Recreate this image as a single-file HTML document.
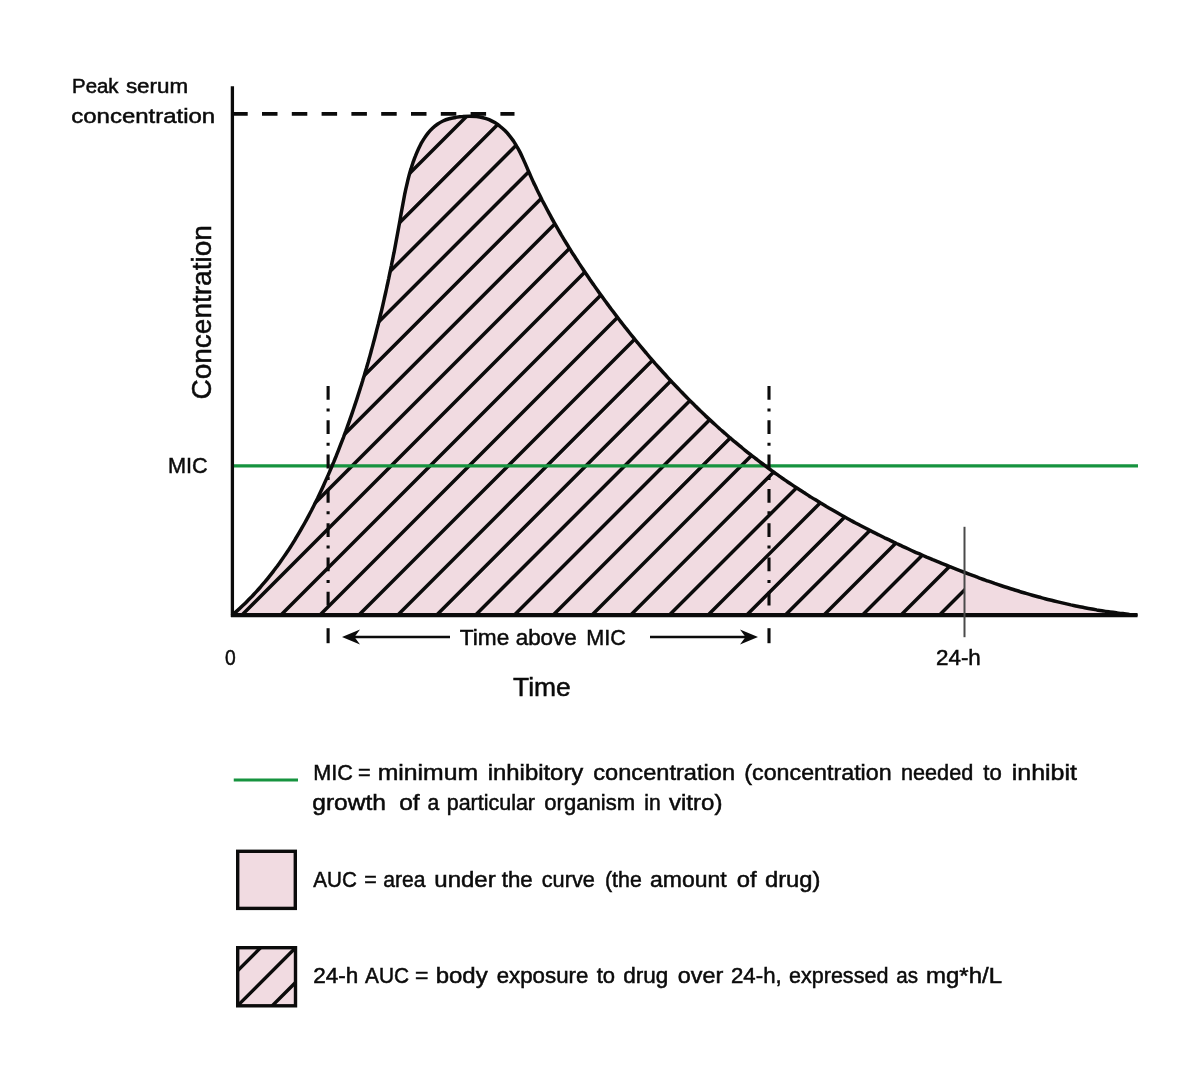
<!DOCTYPE html>
<html><head><meta charset="utf-8"><title>PK curve</title>
<style>
html,body{margin:0;padding:0;background:#fff;}
body{width:1200px;height:1078px;overflow:hidden;}
svg{display:block;filter:blur(0.55px);}
text{font-family:"Liberation Sans",sans-serif;fill:#0b0b0b;stroke:#0b0b0b;stroke-width:0.5px;}
</style></head><body>
<svg width="1200" height="1078" viewBox="0 0 1200 1078">
<defs>
<clipPath id="auc"><path d="M232.6,614.8 C233.4,614.1 236.0,611.9 237.6,610.4 C239.3,608.9 240.9,607.4 242.5,605.8 C244.1,604.3 245.7,602.8 247.2,601.2 C248.8,599.6 250.3,598.0 251.9,596.5 C253.4,594.9 254.9,593.2 256.4,591.6 C257.9,590.0 259.3,588.4 260.8,586.7 C262.2,585.0 263.6,583.4 265.1,581.7 C266.5,580.0 267.9,578.3 269.2,576.6 C270.6,574.9 271.9,573.2 273.3,571.4 C274.6,569.7 275.9,567.9 277.2,566.2 C278.5,564.4 279.8,562.6 281.1,560.8 C282.4,559.0 283.6,557.2 284.8,555.4 C286.1,553.6 287.3,551.8 288.5,550.0 C289.7,548.1 290.9,546.3 292.1,544.4 C293.2,542.6 294.4,540.7 295.5,538.8 C296.7,536.9 297.8,535.1 298.9,533.2 C300.0,531.3 301.1,529.4 302.2,527.4 C303.3,525.5 304.4,523.6 305.4,521.7 C306.5,519.7 307.6,517.8 308.6,515.9 C309.6,513.9 310.6,512.0 311.7,510.0 C312.7,508.0 313.7,506.1 314.6,504.1 C315.6,502.1 316.6,500.1 317.6,498.2 C318.5,496.2 319.5,494.2 320.4,492.2 C321.4,490.2 322.3,488.2 323.2,486.2 C324.1,484.2 325.0,482.1 325.9,480.1 C326.8,478.1 327.7,476.1 328.6,474.1 C329.5,472.0 330.3,470.0 331.2,468.0 C332.1,465.9 332.9,463.9 333.8,461.9 C334.6,459.8 335.4,457.8 336.3,455.7 C337.1,453.7 337.9,451.7 338.7,449.6 C339.5,447.6 340.3,445.5 341.1,443.4 C341.9,441.4 342.7,439.3 343.5,437.3 C344.2,435.2 345.0,433.1 345.8,431.1 C346.5,429.0 347.3,426.9 348.0,424.9 C348.8,422.8 349.5,420.7 350.2,418.6 C351.0,416.6 351.7,414.5 352.4,412.4 C353.1,410.3 353.8,408.2 354.5,406.1 C355.2,404.1 355.9,402.0 356.6,399.9 C357.3,397.8 358.0,395.7 358.6,393.6 C359.3,391.5 360.0,389.4 360.6,387.3 C361.3,385.2 361.9,383.1 362.6,381.0 C363.2,378.9 363.9,376.8 364.5,374.7 C365.1,372.6 365.7,370.4 366.4,368.3 C367.0,366.2 367.6,364.1 368.2,362.0 C368.8,359.9 369.4,357.7 370.0,355.6 C370.6,353.5 371.1,351.4 371.7,349.3 C372.3,347.1 372.9,345.0 373.4,342.9 C374.0,340.7 374.6,338.6 375.1,336.5 C375.7,334.3 376.2,332.2 376.7,330.1 C377.3,327.9 377.8,325.8 378.4,323.7 C378.9,321.5 379.4,319.4 379.9,317.3 C380.4,315.1 381.0,313.0 381.5,310.8 C382.0,308.7 382.5,306.5 383.0,304.4 C383.5,302.2 384.0,300.1 384.4,298.0 C384.9,295.8 385.4,293.7 385.9,291.5 C386.4,289.4 386.8,287.2 387.3,285.0 C387.8,282.9 388.2,280.7 388.7,278.6 C389.1,276.4 389.6,274.3 390.0,272.1 C390.5,270.0 390.9,267.8 391.4,265.6 C391.8,263.5 392.2,261.3 392.7,259.2 C393.1,257.0 393.5,254.8 394.0,252.7 C394.4,250.5 394.8,248.4 395.2,246.2 C395.6,244.0 396.0,241.9 396.4,239.7 C396.8,237.5 397.2,235.4 397.6,233.2 C398.0,231.0 398.4,228.9 398.8,226.7 C399.2,224.5 399.6,222.4 400.0,220.2 C400.4,218.0 400.7,215.9 401.1,213.7 C401.5,211.5 401.9,209.4 402.3,207.2 C402.7,205.0 403.1,202.9 403.5,200.7 C403.9,198.6 404.3,196.4 404.7,194.2 C405.2,192.1 405.6,189.9 406.1,187.8 C406.6,185.6 407.1,183.5 407.6,181.3 C408.1,179.2 408.7,177.1 409.2,174.9 C409.8,172.8 410.4,170.7 411.1,168.6 C411.7,166.4 412.4,164.3 413.1,162.2 C413.9,160.1 414.6,158.0 415.5,155.9 C416.3,153.9 417.1,151.8 418.1,149.7 C419.0,147.7 420.0,145.7 421.0,143.7 C422.1,141.8 423.2,139.9 424.4,138.1 C425.6,136.2 426.8,134.5 428.2,132.8 C429.5,131.2 431.0,129.6 432.5,128.2 C434.1,126.7 435.7,125.4 437.4,124.2 C439.2,123.0 441.0,121.9 443.0,121.0 C445.0,120.1 447.1,119.4 449.2,118.8 C451.4,118.2 453.6,117.7 455.9,117.4 C458.2,117.0 460.5,116.7 462.8,116.6 C465.1,116.4 467.4,116.3 469.7,116.3 C472.0,116.3 474.3,116.4 476.5,116.6 C478.7,116.8 480.9,117.2 483.0,117.7 C485.1,118.2 487.1,118.8 489.1,119.6 C491.1,120.5 493.0,121.5 494.8,122.6 C496.6,123.7 498.4,124.9 500.1,126.3 C501.8,127.6 503.4,129.1 504.9,130.6 C506.5,132.2 508.0,133.9 509.4,135.6 C510.8,137.3 512.1,139.1 513.4,140.9 C514.6,142.8 515.8,144.7 516.9,146.6 C518.1,148.5 519.1,150.4 520.1,152.4 C521.1,154.4 522.0,156.4 522.9,158.4 C523.8,160.4 524.7,162.4 525.6,164.4 C526.5,166.5 527.3,168.5 528.2,170.5 C529.1,172.5 530.0,174.6 530.9,176.6 C531.8,178.6 532.7,180.6 533.6,182.6 C534.6,184.6 535.5,186.6 536.5,188.6 C537.4,190.6 538.4,192.6 539.4,194.5 C540.4,196.5 541.3,198.5 542.3,200.5 C543.3,202.4 544.4,204.4 545.4,206.3 C546.4,208.3 547.4,210.2 548.5,212.2 C549.5,214.1 550.6,216.0 551.6,218.0 C552.7,219.9 553.8,221.8 554.8,223.7 C555.9,225.6 557.0,227.5 558.1,229.4 C559.2,231.3 560.3,233.2 561.4,235.1 C562.6,237.0 563.7,238.9 564.8,240.8 C566.0,242.6 567.1,244.5 568.3,246.4 C569.4,248.3 570.6,250.1 571.7,252.0 C572.9,253.8 574.1,255.7 575.3,257.5 C576.5,259.4 577.7,261.2 578.9,263.1 C580.1,264.9 581.3,266.7 582.5,268.5 C583.7,270.4 584.9,272.2 586.2,274.0 C587.4,275.8 588.7,277.6 589.9,279.5 C591.1,281.3 592.4,283.1 593.7,284.9 C594.9,286.7 596.2,288.5 597.5,290.3 C598.7,292.1 600.0,293.9 601.3,295.6 C602.6,297.4 603.9,299.2 605.2,301.0 C606.5,302.8 607.8,304.5 609.1,306.3 C610.4,308.1 611.8,309.8 613.1,311.6 C614.4,313.4 615.7,315.1 617.1,316.9 C618.4,318.6 619.8,320.4 621.1,322.1 C622.5,323.9 623.8,325.6 625.2,327.4 C626.6,329.1 627.9,330.8 629.3,332.5 C630.7,334.3 632.1,336.0 633.5,337.7 C634.9,339.4 636.3,341.1 637.7,342.8 C639.1,344.6 640.5,346.3 641.9,347.9 C643.3,349.6 644.7,351.3 646.2,353.0 C647.6,354.7 649.0,356.4 650.5,358.1 C651.9,359.7 653.4,361.4 654.8,363.1 C656.3,364.7 657.8,366.4 659.2,368.0 C660.7,369.7 662.2,371.3 663.7,373.0 C665.2,374.6 666.6,376.2 668.1,377.9 C669.6,379.5 671.1,381.1 672.6,382.7 C674.2,384.3 675.7,385.9 677.2,387.5 C678.7,389.1 680.3,390.7 681.8,392.3 C683.3,393.9 684.9,395.5 686.4,397.0 C688.0,398.6 689.5,400.2 691.1,401.7 C692.7,403.3 694.2,404.8 695.8,406.4 C697.4,407.9 699.0,409.5 700.5,411.0 C702.1,412.5 703.7,414.0 705.3,415.6 C706.9,417.1 708.5,418.6 710.2,420.1 C711.8,421.6 713.4,423.1 715.0,424.5 C716.7,426.0 718.3,427.5 719.9,429.0 C721.6,430.4 723.2,431.9 724.9,433.3 C726.6,434.8 728.2,436.2 729.9,437.7 C731.6,439.1 733.2,440.5 734.9,441.9 C736.6,443.4 738.3,444.8 740.0,446.2 C741.7,447.6 743.4,448.9 745.1,450.3 C746.8,451.7 748.5,453.1 750.3,454.4 C752.0,455.8 753.7,457.1 755.5,458.5 C757.2,459.8 758.9,461.2 760.7,462.5 C762.4,463.8 764.2,465.1 766.0,466.4 C767.7,467.8 769.5,469.1 771.3,470.3 C773.1,471.6 774.8,472.9 776.6,474.2 C778.4,475.5 780.2,476.7 782.0,478.0 C783.8,479.2 785.6,480.5 787.4,481.7 C789.3,483.0 791.1,484.2 792.9,485.4 C794.7,486.6 796.6,487.8 798.4,489.0 C800.2,490.2 802.1,491.4 803.9,492.6 C805.8,493.8 807.6,495.0 809.5,496.2 C811.3,497.3 813.2,498.5 815.1,499.6 C817.0,500.8 818.8,501.9 820.7,503.1 C822.6,504.2 824.5,505.3 826.4,506.5 C828.3,507.6 830.2,508.7 832.1,509.8 C834.0,510.9 835.9,512.0 837.8,513.1 C839.7,514.2 841.6,515.3 843.5,516.3 C845.5,517.4 847.4,518.5 849.3,519.5 C851.2,520.6 853.2,521.6 855.1,522.7 C857.1,523.7 859.0,524.8 860.9,525.8 C862.9,526.8 864.8,527.8 866.8,528.8 C868.8,529.9 870.7,530.9 872.7,531.9 C874.6,532.9 876.6,533.9 878.6,534.8 C880.6,535.8 882.5,536.8 884.5,537.8 C886.5,538.7 888.5,539.7 890.5,540.6 C892.5,541.6 894.5,542.5 896.5,543.5 C898.5,544.4 900.5,545.4 902.5,546.3 C904.5,547.2 906.5,548.1 908.5,549.0 C910.5,550.0 912.5,550.9 914.5,551.8 C916.5,552.7 918.5,553.5 920.6,554.4 C922.6,555.3 924.6,556.2 926.6,557.1 C928.7,557.9 930.7,558.8 932.7,559.7 C934.8,560.5 936.8,561.4 938.9,562.2 C940.9,563.1 942.9,563.9 945.0,564.7 C947.0,565.6 949.1,566.4 951.1,567.2 C953.2,568.0 955.2,568.8 957.3,569.6 C959.3,570.4 961.4,571.2 963.5,572.0 C965.5,572.8 967.6,573.6 969.7,574.4 C971.7,575.2 973.8,575.9 975.9,576.7 C977.9,577.5 980.0,578.2 982.1,579.0 C984.2,579.7 986.2,580.5 988.3,581.2 C990.4,581.9 992.5,582.6 994.6,583.4 C996.7,584.1 998.8,584.8 1000.8,585.5 C1002.9,586.2 1005.0,586.9 1007.1,587.5 C1009.2,588.2 1011.3,588.9 1013.4,589.5 C1015.5,590.2 1017.6,590.8 1019.7,591.5 C1021.8,592.1 1024.0,592.8 1026.1,593.4 C1028.2,594.0 1030.3,594.6 1032.4,595.2 C1034.5,595.8 1036.6,596.4 1038.8,597.0 C1040.9,597.6 1043.0,598.1 1045.1,598.7 C1047.3,599.3 1049.4,599.8 1051.5,600.3 C1053.7,600.9 1055.8,601.4 1057.9,601.9 C1060.1,602.4 1062.2,602.9 1064.4,603.4 C1066.5,603.9 1068.7,604.4 1070.8,604.9 C1072.9,605.3 1075.1,605.8 1077.3,606.2 C1079.4,606.7 1081.6,607.1 1083.7,607.5 C1085.9,607.9 1088.0,608.4 1090.2,608.7 C1092.4,609.1 1094.5,609.5 1096.7,609.9 C1098.9,610.2 1101.0,610.6 1103.2,610.9 C1105.4,611.3 1107.6,611.6 1109.7,611.9 C1111.9,612.2 1114.1,612.5 1116.3,612.8 C1118.5,613.1 1120.6,613.4 1122.8,613.6 C1125.0,613.9 1127.2,614.1 1129.4,614.4 C1131.6,614.6 1134.9,614.9 1136.0,615.0 L233,614.8 Z"/></clipPath>
<clipPath id="h24"><rect x="0" y="0" width="964.5" height="1078"/></clipPath>
<clipPath id="box2"><rect x="237.7" y="947.7" width="57.8" height="58.1"/></clipPath>
</defs>
<rect width="1200" height="1078" fill="#fff"/>
<!-- filled area -->
<path d="M232.6,614.8 C233.4,614.1 236.0,611.9 237.6,610.4 C239.3,608.9 240.9,607.4 242.5,605.8 C244.1,604.3 245.7,602.8 247.2,601.2 C248.8,599.6 250.3,598.0 251.9,596.5 C253.4,594.9 254.9,593.2 256.4,591.6 C257.9,590.0 259.3,588.4 260.8,586.7 C262.2,585.0 263.6,583.4 265.1,581.7 C266.5,580.0 267.9,578.3 269.2,576.6 C270.6,574.9 271.9,573.2 273.3,571.4 C274.6,569.7 275.9,567.9 277.2,566.2 C278.5,564.4 279.8,562.6 281.1,560.8 C282.4,559.0 283.6,557.2 284.8,555.4 C286.1,553.6 287.3,551.8 288.5,550.0 C289.7,548.1 290.9,546.3 292.1,544.4 C293.2,542.6 294.4,540.7 295.5,538.8 C296.7,536.9 297.8,535.1 298.9,533.2 C300.0,531.3 301.1,529.4 302.2,527.4 C303.3,525.5 304.4,523.6 305.4,521.7 C306.5,519.7 307.6,517.8 308.6,515.9 C309.6,513.9 310.6,512.0 311.7,510.0 C312.7,508.0 313.7,506.1 314.6,504.1 C315.6,502.1 316.6,500.1 317.6,498.2 C318.5,496.2 319.5,494.2 320.4,492.2 C321.4,490.2 322.3,488.2 323.2,486.2 C324.1,484.2 325.0,482.1 325.9,480.1 C326.8,478.1 327.7,476.1 328.6,474.1 C329.5,472.0 330.3,470.0 331.2,468.0 C332.1,465.9 332.9,463.9 333.8,461.9 C334.6,459.8 335.4,457.8 336.3,455.7 C337.1,453.7 337.9,451.7 338.7,449.6 C339.5,447.6 340.3,445.5 341.1,443.4 C341.9,441.4 342.7,439.3 343.5,437.3 C344.2,435.2 345.0,433.1 345.8,431.1 C346.5,429.0 347.3,426.9 348.0,424.9 C348.8,422.8 349.5,420.7 350.2,418.6 C351.0,416.6 351.7,414.5 352.4,412.4 C353.1,410.3 353.8,408.2 354.5,406.1 C355.2,404.1 355.9,402.0 356.6,399.9 C357.3,397.8 358.0,395.7 358.6,393.6 C359.3,391.5 360.0,389.4 360.6,387.3 C361.3,385.2 361.9,383.1 362.6,381.0 C363.2,378.9 363.9,376.8 364.5,374.7 C365.1,372.6 365.7,370.4 366.4,368.3 C367.0,366.2 367.6,364.1 368.2,362.0 C368.8,359.9 369.4,357.7 370.0,355.6 C370.6,353.5 371.1,351.4 371.7,349.3 C372.3,347.1 372.9,345.0 373.4,342.9 C374.0,340.7 374.6,338.6 375.1,336.5 C375.7,334.3 376.2,332.2 376.7,330.1 C377.3,327.9 377.8,325.8 378.4,323.7 C378.9,321.5 379.4,319.4 379.9,317.3 C380.4,315.1 381.0,313.0 381.5,310.8 C382.0,308.7 382.5,306.5 383.0,304.4 C383.5,302.2 384.0,300.1 384.4,298.0 C384.9,295.8 385.4,293.7 385.9,291.5 C386.4,289.4 386.8,287.2 387.3,285.0 C387.8,282.9 388.2,280.7 388.7,278.6 C389.1,276.4 389.6,274.3 390.0,272.1 C390.5,270.0 390.9,267.8 391.4,265.6 C391.8,263.5 392.2,261.3 392.7,259.2 C393.1,257.0 393.5,254.8 394.0,252.7 C394.4,250.5 394.8,248.4 395.2,246.2 C395.6,244.0 396.0,241.9 396.4,239.7 C396.8,237.5 397.2,235.4 397.6,233.2 C398.0,231.0 398.4,228.9 398.8,226.7 C399.2,224.5 399.6,222.4 400.0,220.2 C400.4,218.0 400.7,215.9 401.1,213.7 C401.5,211.5 401.9,209.4 402.3,207.2 C402.7,205.0 403.1,202.9 403.5,200.7 C403.9,198.6 404.3,196.4 404.7,194.2 C405.2,192.1 405.6,189.9 406.1,187.8 C406.6,185.6 407.1,183.5 407.6,181.3 C408.1,179.2 408.7,177.1 409.2,174.9 C409.8,172.8 410.4,170.7 411.1,168.6 C411.7,166.4 412.4,164.3 413.1,162.2 C413.9,160.1 414.6,158.0 415.5,155.9 C416.3,153.9 417.1,151.8 418.1,149.7 C419.0,147.7 420.0,145.7 421.0,143.7 C422.1,141.8 423.2,139.9 424.4,138.1 C425.6,136.2 426.8,134.5 428.2,132.8 C429.5,131.2 431.0,129.6 432.5,128.2 C434.1,126.7 435.7,125.4 437.4,124.2 C439.2,123.0 441.0,121.9 443.0,121.0 C445.0,120.1 447.1,119.4 449.2,118.8 C451.4,118.2 453.6,117.7 455.9,117.4 C458.2,117.0 460.5,116.7 462.8,116.6 C465.1,116.4 467.4,116.3 469.7,116.3 C472.0,116.3 474.3,116.4 476.5,116.6 C478.7,116.8 480.9,117.2 483.0,117.7 C485.1,118.2 487.1,118.8 489.1,119.6 C491.1,120.5 493.0,121.5 494.8,122.6 C496.6,123.7 498.4,124.9 500.1,126.3 C501.8,127.6 503.4,129.1 504.9,130.6 C506.5,132.2 508.0,133.9 509.4,135.6 C510.8,137.3 512.1,139.1 513.4,140.9 C514.6,142.8 515.8,144.7 516.9,146.6 C518.1,148.5 519.1,150.4 520.1,152.4 C521.1,154.4 522.0,156.4 522.9,158.4 C523.8,160.4 524.7,162.4 525.6,164.4 C526.5,166.5 527.3,168.5 528.2,170.5 C529.1,172.5 530.0,174.6 530.9,176.6 C531.8,178.6 532.7,180.6 533.6,182.6 C534.6,184.6 535.5,186.6 536.5,188.6 C537.4,190.6 538.4,192.6 539.4,194.5 C540.4,196.5 541.3,198.5 542.3,200.5 C543.3,202.4 544.4,204.4 545.4,206.3 C546.4,208.3 547.4,210.2 548.5,212.2 C549.5,214.1 550.6,216.0 551.6,218.0 C552.7,219.9 553.8,221.8 554.8,223.7 C555.9,225.6 557.0,227.5 558.1,229.4 C559.2,231.3 560.3,233.2 561.4,235.1 C562.6,237.0 563.7,238.9 564.8,240.8 C566.0,242.6 567.1,244.5 568.3,246.4 C569.4,248.3 570.6,250.1 571.7,252.0 C572.9,253.8 574.1,255.7 575.3,257.5 C576.5,259.4 577.7,261.2 578.9,263.1 C580.1,264.9 581.3,266.7 582.5,268.5 C583.7,270.4 584.9,272.2 586.2,274.0 C587.4,275.8 588.7,277.6 589.9,279.5 C591.1,281.3 592.4,283.1 593.7,284.9 C594.9,286.7 596.2,288.5 597.5,290.3 C598.7,292.1 600.0,293.9 601.3,295.6 C602.6,297.4 603.9,299.2 605.2,301.0 C606.5,302.8 607.8,304.5 609.1,306.3 C610.4,308.1 611.8,309.8 613.1,311.6 C614.4,313.4 615.7,315.1 617.1,316.9 C618.4,318.6 619.8,320.4 621.1,322.1 C622.5,323.9 623.8,325.6 625.2,327.4 C626.6,329.1 627.9,330.8 629.3,332.5 C630.7,334.3 632.1,336.0 633.5,337.7 C634.9,339.4 636.3,341.1 637.7,342.8 C639.1,344.6 640.5,346.3 641.9,347.9 C643.3,349.6 644.7,351.3 646.2,353.0 C647.6,354.7 649.0,356.4 650.5,358.1 C651.9,359.7 653.4,361.4 654.8,363.1 C656.3,364.7 657.8,366.4 659.2,368.0 C660.7,369.7 662.2,371.3 663.7,373.0 C665.2,374.6 666.6,376.2 668.1,377.9 C669.6,379.5 671.1,381.1 672.6,382.7 C674.2,384.3 675.7,385.9 677.2,387.5 C678.7,389.1 680.3,390.7 681.8,392.3 C683.3,393.9 684.9,395.5 686.4,397.0 C688.0,398.6 689.5,400.2 691.1,401.7 C692.7,403.3 694.2,404.8 695.8,406.4 C697.4,407.9 699.0,409.5 700.5,411.0 C702.1,412.5 703.7,414.0 705.3,415.6 C706.9,417.1 708.5,418.6 710.2,420.1 C711.8,421.6 713.4,423.1 715.0,424.5 C716.7,426.0 718.3,427.5 719.9,429.0 C721.6,430.4 723.2,431.9 724.9,433.3 C726.6,434.8 728.2,436.2 729.9,437.7 C731.6,439.1 733.2,440.5 734.9,441.9 C736.6,443.4 738.3,444.8 740.0,446.2 C741.7,447.6 743.4,448.9 745.1,450.3 C746.8,451.7 748.5,453.1 750.3,454.4 C752.0,455.8 753.7,457.1 755.5,458.5 C757.2,459.8 758.9,461.2 760.7,462.5 C762.4,463.8 764.2,465.1 766.0,466.4 C767.7,467.8 769.5,469.1 771.3,470.3 C773.1,471.6 774.8,472.9 776.6,474.2 C778.4,475.5 780.2,476.7 782.0,478.0 C783.8,479.2 785.6,480.5 787.4,481.7 C789.3,483.0 791.1,484.2 792.9,485.4 C794.7,486.6 796.6,487.8 798.4,489.0 C800.2,490.2 802.1,491.4 803.9,492.6 C805.8,493.8 807.6,495.0 809.5,496.2 C811.3,497.3 813.2,498.5 815.1,499.6 C817.0,500.8 818.8,501.9 820.7,503.1 C822.6,504.2 824.5,505.3 826.4,506.5 C828.3,507.6 830.2,508.7 832.1,509.8 C834.0,510.9 835.9,512.0 837.8,513.1 C839.7,514.2 841.6,515.3 843.5,516.3 C845.5,517.4 847.4,518.5 849.3,519.5 C851.2,520.6 853.2,521.6 855.1,522.7 C857.1,523.7 859.0,524.8 860.9,525.8 C862.9,526.8 864.8,527.8 866.8,528.8 C868.8,529.9 870.7,530.9 872.7,531.9 C874.6,532.9 876.6,533.9 878.6,534.8 C880.6,535.8 882.5,536.8 884.5,537.8 C886.5,538.7 888.5,539.7 890.5,540.6 C892.5,541.6 894.5,542.5 896.5,543.5 C898.5,544.4 900.5,545.4 902.5,546.3 C904.5,547.2 906.5,548.1 908.5,549.0 C910.5,550.0 912.5,550.9 914.5,551.8 C916.5,552.7 918.5,553.5 920.6,554.4 C922.6,555.3 924.6,556.2 926.6,557.1 C928.7,557.9 930.7,558.8 932.7,559.7 C934.8,560.5 936.8,561.4 938.9,562.2 C940.9,563.1 942.9,563.9 945.0,564.7 C947.0,565.6 949.1,566.4 951.1,567.2 C953.2,568.0 955.2,568.8 957.3,569.6 C959.3,570.4 961.4,571.2 963.5,572.0 C965.5,572.8 967.6,573.6 969.7,574.4 C971.7,575.2 973.8,575.9 975.9,576.7 C977.9,577.5 980.0,578.2 982.1,579.0 C984.2,579.7 986.2,580.5 988.3,581.2 C990.4,581.9 992.5,582.6 994.6,583.4 C996.7,584.1 998.8,584.8 1000.8,585.5 C1002.9,586.2 1005.0,586.9 1007.1,587.5 C1009.2,588.2 1011.3,588.9 1013.4,589.5 C1015.5,590.2 1017.6,590.8 1019.7,591.5 C1021.8,592.1 1024.0,592.8 1026.1,593.4 C1028.2,594.0 1030.3,594.6 1032.4,595.2 C1034.5,595.8 1036.6,596.4 1038.8,597.0 C1040.9,597.6 1043.0,598.1 1045.1,598.7 C1047.3,599.3 1049.4,599.8 1051.5,600.3 C1053.7,600.9 1055.8,601.4 1057.9,601.9 C1060.1,602.4 1062.2,602.9 1064.4,603.4 C1066.5,603.9 1068.7,604.4 1070.8,604.9 C1072.9,605.3 1075.1,605.8 1077.3,606.2 C1079.4,606.7 1081.6,607.1 1083.7,607.5 C1085.9,607.9 1088.0,608.4 1090.2,608.7 C1092.4,609.1 1094.5,609.5 1096.7,609.9 C1098.9,610.2 1101.0,610.6 1103.2,610.9 C1105.4,611.3 1107.6,611.6 1109.7,611.9 C1111.9,612.2 1114.1,612.5 1116.3,612.8 C1118.5,613.1 1120.6,613.4 1122.8,613.6 C1125.0,613.9 1127.2,614.1 1129.4,614.4 C1131.6,614.6 1134.9,614.9 1136.0,615.0 L233,614.8 Z" fill="#f1dbe1"/>
<!-- hatch -->
<g clip-path="url(#h24)"><g clip-path="url(#auc)"><path d="M-396.25,624.80 L173.75,54.80 M-356.74,624.80 L213.26,54.80 M-317.27,624.80 L252.73,54.80 M-277.82,624.80 L292.18,54.80 M-238.41,624.80 L331.59,54.80 M-199.03,624.80 L370.97,54.80 M-159.68,624.80 L410.32,54.80 M-120.35,624.80 L449.65,54.80 M-81.06,624.80 L488.94,54.80 M-41.80,624.80 L528.20,54.80 M-2.57,624.80 L567.43,54.80 M36.63,624.80 L606.63,54.80 M75.79,624.80 L645.79,54.80 M114.93,624.80 L684.93,54.80 M154.04,624.80 L724.04,54.80 M193.11,624.80 L763.11,54.80 M232.16,624.80 L802.16,54.80 M271.17,624.80 L841.17,54.80 M310.16,624.80 L880.16,54.80 M349.11,624.80 L919.11,54.80 M388.03,624.80 L958.03,54.80 M426.93,624.80 L996.93,54.80 M465.79,624.80 L1035.79,54.80 M504.62,624.80 L1074.62,54.80 M543.42,624.80 L1113.42,54.80 M582.19,624.80 L1152.19,54.80 M620.93,624.80 L1190.93,54.80 M659.63,624.80 L1229.63,54.80 M698.31,624.80 L1268.31,54.80 M736.96,624.80 L1306.96,54.80 M775.57,624.80 L1345.57,54.80 M814.16,624.80 L1384.16,54.80 M852.71,624.80 L1422.71,54.80 M891.23,624.80 L1461.23,54.80 M929.73,624.80 L1499.73,54.80 M968.19,624.80 L1538.19,54.80" stroke="#0b0b0b" stroke-width="3.5" fill="none"/></g></g>
<!-- MIC line -->
<line x1="233" y1="465.8" x2="1138" y2="465.8" stroke="#16933f" stroke-width="3.2"/>
<!-- curve outline -->
<path d="M232.6,614.8 C233.4,614.1 236.0,611.9 237.6,610.4 C239.3,608.9 240.9,607.4 242.5,605.8 C244.1,604.3 245.7,602.8 247.2,601.2 C248.8,599.6 250.3,598.0 251.9,596.5 C253.4,594.9 254.9,593.2 256.4,591.6 C257.9,590.0 259.3,588.4 260.8,586.7 C262.2,585.0 263.6,583.4 265.1,581.7 C266.5,580.0 267.9,578.3 269.2,576.6 C270.6,574.9 271.9,573.2 273.3,571.4 C274.6,569.7 275.9,567.9 277.2,566.2 C278.5,564.4 279.8,562.6 281.1,560.8 C282.4,559.0 283.6,557.2 284.8,555.4 C286.1,553.6 287.3,551.8 288.5,550.0 C289.7,548.1 290.9,546.3 292.1,544.4 C293.2,542.6 294.4,540.7 295.5,538.8 C296.7,536.9 297.8,535.1 298.9,533.2 C300.0,531.3 301.1,529.4 302.2,527.4 C303.3,525.5 304.4,523.6 305.4,521.7 C306.5,519.7 307.6,517.8 308.6,515.9 C309.6,513.9 310.6,512.0 311.7,510.0 C312.7,508.0 313.7,506.1 314.6,504.1 C315.6,502.1 316.6,500.1 317.6,498.2 C318.5,496.2 319.5,494.2 320.4,492.2 C321.4,490.2 322.3,488.2 323.2,486.2 C324.1,484.2 325.0,482.1 325.9,480.1 C326.8,478.1 327.7,476.1 328.6,474.1 C329.5,472.0 330.3,470.0 331.2,468.0 C332.1,465.9 332.9,463.9 333.8,461.9 C334.6,459.8 335.4,457.8 336.3,455.7 C337.1,453.7 337.9,451.7 338.7,449.6 C339.5,447.6 340.3,445.5 341.1,443.4 C341.9,441.4 342.7,439.3 343.5,437.3 C344.2,435.2 345.0,433.1 345.8,431.1 C346.5,429.0 347.3,426.9 348.0,424.9 C348.8,422.8 349.5,420.7 350.2,418.6 C351.0,416.6 351.7,414.5 352.4,412.4 C353.1,410.3 353.8,408.2 354.5,406.1 C355.2,404.1 355.9,402.0 356.6,399.9 C357.3,397.8 358.0,395.7 358.6,393.6 C359.3,391.5 360.0,389.4 360.6,387.3 C361.3,385.2 361.9,383.1 362.6,381.0 C363.2,378.9 363.9,376.8 364.5,374.7 C365.1,372.6 365.7,370.4 366.4,368.3 C367.0,366.2 367.6,364.1 368.2,362.0 C368.8,359.9 369.4,357.7 370.0,355.6 C370.6,353.5 371.1,351.4 371.7,349.3 C372.3,347.1 372.9,345.0 373.4,342.9 C374.0,340.7 374.6,338.6 375.1,336.5 C375.7,334.3 376.2,332.2 376.7,330.1 C377.3,327.9 377.8,325.8 378.4,323.7 C378.9,321.5 379.4,319.4 379.9,317.3 C380.4,315.1 381.0,313.0 381.5,310.8 C382.0,308.7 382.5,306.5 383.0,304.4 C383.5,302.2 384.0,300.1 384.4,298.0 C384.9,295.8 385.4,293.7 385.9,291.5 C386.4,289.4 386.8,287.2 387.3,285.0 C387.8,282.9 388.2,280.7 388.7,278.6 C389.1,276.4 389.6,274.3 390.0,272.1 C390.5,270.0 390.9,267.8 391.4,265.6 C391.8,263.5 392.2,261.3 392.7,259.2 C393.1,257.0 393.5,254.8 394.0,252.7 C394.4,250.5 394.8,248.4 395.2,246.2 C395.6,244.0 396.0,241.9 396.4,239.7 C396.8,237.5 397.2,235.4 397.6,233.2 C398.0,231.0 398.4,228.9 398.8,226.7 C399.2,224.5 399.6,222.4 400.0,220.2 C400.4,218.0 400.7,215.9 401.1,213.7 C401.5,211.5 401.9,209.4 402.3,207.2 C402.7,205.0 403.1,202.9 403.5,200.7 C403.9,198.6 404.3,196.4 404.7,194.2 C405.2,192.1 405.6,189.9 406.1,187.8 C406.6,185.6 407.1,183.5 407.6,181.3 C408.1,179.2 408.7,177.1 409.2,174.9 C409.8,172.8 410.4,170.7 411.1,168.6 C411.7,166.4 412.4,164.3 413.1,162.2 C413.9,160.1 414.6,158.0 415.5,155.9 C416.3,153.9 417.1,151.8 418.1,149.7 C419.0,147.7 420.0,145.7 421.0,143.7 C422.1,141.8 423.2,139.9 424.4,138.1 C425.6,136.2 426.8,134.5 428.2,132.8 C429.5,131.2 431.0,129.6 432.5,128.2 C434.1,126.7 435.7,125.4 437.4,124.2 C439.2,123.0 441.0,121.9 443.0,121.0 C445.0,120.1 447.1,119.4 449.2,118.8 C451.4,118.2 453.6,117.7 455.9,117.4 C458.2,117.0 460.5,116.7 462.8,116.6 C465.1,116.4 467.4,116.3 469.7,116.3 C472.0,116.3 474.3,116.4 476.5,116.6 C478.7,116.8 480.9,117.2 483.0,117.7 C485.1,118.2 487.1,118.8 489.1,119.6 C491.1,120.5 493.0,121.5 494.8,122.6 C496.6,123.7 498.4,124.9 500.1,126.3 C501.8,127.6 503.4,129.1 504.9,130.6 C506.5,132.2 508.0,133.9 509.4,135.6 C510.8,137.3 512.1,139.1 513.4,140.9 C514.6,142.8 515.8,144.7 516.9,146.6 C518.1,148.5 519.1,150.4 520.1,152.4 C521.1,154.4 522.0,156.4 522.9,158.4 C523.8,160.4 524.7,162.4 525.6,164.4 C526.5,166.5 527.3,168.5 528.2,170.5 C529.1,172.5 530.0,174.6 530.9,176.6 C531.8,178.6 532.7,180.6 533.6,182.6 C534.6,184.6 535.5,186.6 536.5,188.6 C537.4,190.6 538.4,192.6 539.4,194.5 C540.4,196.5 541.3,198.5 542.3,200.5 C543.3,202.4 544.4,204.4 545.4,206.3 C546.4,208.3 547.4,210.2 548.5,212.2 C549.5,214.1 550.6,216.0 551.6,218.0 C552.7,219.9 553.8,221.8 554.8,223.7 C555.9,225.6 557.0,227.5 558.1,229.4 C559.2,231.3 560.3,233.2 561.4,235.1 C562.6,237.0 563.7,238.9 564.8,240.8 C566.0,242.6 567.1,244.5 568.3,246.4 C569.4,248.3 570.6,250.1 571.7,252.0 C572.9,253.8 574.1,255.7 575.3,257.5 C576.5,259.4 577.7,261.2 578.9,263.1 C580.1,264.9 581.3,266.7 582.5,268.5 C583.7,270.4 584.9,272.2 586.2,274.0 C587.4,275.8 588.7,277.6 589.9,279.5 C591.1,281.3 592.4,283.1 593.7,284.9 C594.9,286.7 596.2,288.5 597.5,290.3 C598.7,292.1 600.0,293.9 601.3,295.6 C602.6,297.4 603.9,299.2 605.2,301.0 C606.5,302.8 607.8,304.5 609.1,306.3 C610.4,308.1 611.8,309.8 613.1,311.6 C614.4,313.4 615.7,315.1 617.1,316.9 C618.4,318.6 619.8,320.4 621.1,322.1 C622.5,323.9 623.8,325.6 625.2,327.4 C626.6,329.1 627.9,330.8 629.3,332.5 C630.7,334.3 632.1,336.0 633.5,337.7 C634.9,339.4 636.3,341.1 637.7,342.8 C639.1,344.6 640.5,346.3 641.9,347.9 C643.3,349.6 644.7,351.3 646.2,353.0 C647.6,354.7 649.0,356.4 650.5,358.1 C651.9,359.7 653.4,361.4 654.8,363.1 C656.3,364.7 657.8,366.4 659.2,368.0 C660.7,369.7 662.2,371.3 663.7,373.0 C665.2,374.6 666.6,376.2 668.1,377.9 C669.6,379.5 671.1,381.1 672.6,382.7 C674.2,384.3 675.7,385.9 677.2,387.5 C678.7,389.1 680.3,390.7 681.8,392.3 C683.3,393.9 684.9,395.5 686.4,397.0 C688.0,398.6 689.5,400.2 691.1,401.7 C692.7,403.3 694.2,404.8 695.8,406.4 C697.4,407.9 699.0,409.5 700.5,411.0 C702.1,412.5 703.7,414.0 705.3,415.6 C706.9,417.1 708.5,418.6 710.2,420.1 C711.8,421.6 713.4,423.1 715.0,424.5 C716.7,426.0 718.3,427.5 719.9,429.0 C721.6,430.4 723.2,431.9 724.9,433.3 C726.6,434.8 728.2,436.2 729.9,437.7 C731.6,439.1 733.2,440.5 734.9,441.9 C736.6,443.4 738.3,444.8 740.0,446.2 C741.7,447.6 743.4,448.9 745.1,450.3 C746.8,451.7 748.5,453.1 750.3,454.4 C752.0,455.8 753.7,457.1 755.5,458.5 C757.2,459.8 758.9,461.2 760.7,462.5 C762.4,463.8 764.2,465.1 766.0,466.4 C767.7,467.8 769.5,469.1 771.3,470.3 C773.1,471.6 774.8,472.9 776.6,474.2 C778.4,475.5 780.2,476.7 782.0,478.0 C783.8,479.2 785.6,480.5 787.4,481.7 C789.3,483.0 791.1,484.2 792.9,485.4 C794.7,486.6 796.6,487.8 798.4,489.0 C800.2,490.2 802.1,491.4 803.9,492.6 C805.8,493.8 807.6,495.0 809.5,496.2 C811.3,497.3 813.2,498.5 815.1,499.6 C817.0,500.8 818.8,501.9 820.7,503.1 C822.6,504.2 824.5,505.3 826.4,506.5 C828.3,507.6 830.2,508.7 832.1,509.8 C834.0,510.9 835.9,512.0 837.8,513.1 C839.7,514.2 841.6,515.3 843.5,516.3 C845.5,517.4 847.4,518.5 849.3,519.5 C851.2,520.6 853.2,521.6 855.1,522.7 C857.1,523.7 859.0,524.8 860.9,525.8 C862.9,526.8 864.8,527.8 866.8,528.8 C868.8,529.9 870.7,530.9 872.7,531.9 C874.6,532.9 876.6,533.9 878.6,534.8 C880.6,535.8 882.5,536.8 884.5,537.8 C886.5,538.7 888.5,539.7 890.5,540.6 C892.5,541.6 894.5,542.5 896.5,543.5 C898.5,544.4 900.5,545.4 902.5,546.3 C904.5,547.2 906.5,548.1 908.5,549.0 C910.5,550.0 912.5,550.9 914.5,551.8 C916.5,552.7 918.5,553.5 920.6,554.4 C922.6,555.3 924.6,556.2 926.6,557.1 C928.7,557.9 930.7,558.8 932.7,559.7 C934.8,560.5 936.8,561.4 938.9,562.2 C940.9,563.1 942.9,563.9 945.0,564.7 C947.0,565.6 949.1,566.4 951.1,567.2 C953.2,568.0 955.2,568.8 957.3,569.6 C959.3,570.4 961.4,571.2 963.5,572.0 C965.5,572.8 967.6,573.6 969.7,574.4 C971.7,575.2 973.8,575.9 975.9,576.7 C977.9,577.5 980.0,578.2 982.1,579.0 C984.2,579.7 986.2,580.5 988.3,581.2 C990.4,581.9 992.5,582.6 994.6,583.4 C996.7,584.1 998.8,584.8 1000.8,585.5 C1002.9,586.2 1005.0,586.9 1007.1,587.5 C1009.2,588.2 1011.3,588.9 1013.4,589.5 C1015.5,590.2 1017.6,590.8 1019.7,591.5 C1021.8,592.1 1024.0,592.8 1026.1,593.4 C1028.2,594.0 1030.3,594.6 1032.4,595.2 C1034.5,595.8 1036.6,596.4 1038.8,597.0 C1040.9,597.6 1043.0,598.1 1045.1,598.7 C1047.3,599.3 1049.4,599.8 1051.5,600.3 C1053.7,600.9 1055.8,601.4 1057.9,601.9 C1060.1,602.4 1062.2,602.9 1064.4,603.4 C1066.5,603.9 1068.7,604.4 1070.8,604.9 C1072.9,605.3 1075.1,605.8 1077.3,606.2 C1079.4,606.7 1081.6,607.1 1083.7,607.5 C1085.9,607.9 1088.0,608.4 1090.2,608.7 C1092.4,609.1 1094.5,609.5 1096.7,609.9 C1098.9,610.2 1101.0,610.6 1103.2,610.9 C1105.4,611.3 1107.6,611.6 1109.7,611.9 C1111.9,612.2 1114.1,612.5 1116.3,612.8 C1118.5,613.1 1120.6,613.4 1122.8,613.6 C1125.0,613.9 1127.2,614.1 1129.4,614.4 C1131.6,614.6 1134.9,614.9 1136.0,615.0 L233,614.8 Z" fill="none" stroke="#0b0b0b" stroke-width="3.5" stroke-linejoin="round"/>
<!-- axes -->
<line x1="232.4" y1="86.3" x2="232.4" y2="617" stroke="#0b0b0b" stroke-width="3.3"/>
<line x1="231" y1="615.1" x2="1137.5" y2="615.1" stroke="#0b0b0b" stroke-width="4.4"/>
<!-- peak dashed -->
<line x1="232.2" y1="113.8" x2="514.5" y2="113.8" stroke="#0b0b0b" stroke-width="3.8" stroke-dasharray="15.5 14.3"/>
<!-- dash-dot verticals -->
<line x1="328.1" y1="386" x2="328.1" y2="612" stroke="#0b0b0b" stroke-width="3.1" stroke-dasharray="13.8 8.6 3 8.9"/>
<line x1="328.1" y1="628.2" x2="328.1" y2="643.2" stroke="#0b0b0b" stroke-width="3.1"/>
<line x1="769" y1="386" x2="769" y2="612" stroke="#0b0b0b" stroke-width="3.1" stroke-dasharray="13.8 8.6 3 8.9"/>
<line x1="769" y1="628.2" x2="769" y2="643.2" stroke="#0b0b0b" stroke-width="3.1"/>
<!-- 24h line -->
<line x1="964.5" y1="526.8" x2="964.5" y2="637.2" stroke="#4a4a4a" stroke-width="2"/>
<!-- arrows -->
<line x1="352" y1="637" x2="450" y2="637" stroke="#0b0b0b" stroke-width="2.4"/>
<path d="M342,637 L360,629.5 L354.5,637 L360,644.5 Z" fill="#0b0b0b"/>
<line x1="650" y1="637" x2="748" y2="637" stroke="#0b0b0b" stroke-width="2.4"/>
<path d="M758,637 L740,629.5 L745.5,637 L740,644.5 Z" fill="#0b0b0b"/>
<!-- legend -->
<line x1="233.75" y1="780" x2="298" y2="780" stroke="#16933f" stroke-width="3.2"/>
<rect x="237.7" y="851.3" width="57.6" height="57.1" fill="#f1dbe1" stroke="#0b0b0b" stroke-width="3.4"/>
<rect x="237.7" y="947.7" width="57.8" height="58.1" fill="#f1dbe1"/>
<g clip-path="url(#box2)"><path d="M230,978.3 L262,946.3 M232,1011.3 L300,943.3 M268,1010 L300,978" stroke="#0b0b0b" stroke-width="3.4" fill="none"/></g>
<rect x="237.7" y="947.7" width="57.8" height="58.1" fill="none" stroke="#0b0b0b" stroke-width="3.4"/>
<!-- text -->
<text x="72.00" y="92.7" font-size="20.00" textLength="46.58" lengthAdjust="spacingAndGlyphs">Peak</text>
<text x="125.90" y="92.7" font-size="20.00" textLength="62.26" lengthAdjust="spacingAndGlyphs">serum</text>
<text x="71.30" y="123.2" font-size="20.00" textLength="143.88" lengthAdjust="spacingAndGlyphs">concentration</text>
<text transform="translate(210.6,399.60) rotate(-90)" font-size="27.5" textLength="174.48" lengthAdjust="spacingAndGlyphs">Concentration</text>
<text x="168.00" y="473.2" font-size="22.30" textLength="39.66" lengthAdjust="spacingAndGlyphs">MIC</text>
<text x="225.00" y="665.1" font-size="22.30" textLength="10.72" lengthAdjust="spacingAndGlyphs">0</text>
<text x="459.80" y="645.4" font-size="22.30" textLength="49.49" lengthAdjust="spacingAndGlyphs">Time</text>
<text x="515.70" y="645.4" font-size="22.30" textLength="61.10" lengthAdjust="spacingAndGlyphs">above</text>
<text x="586.20" y="645.4" font-size="22.30" textLength="39.56" lengthAdjust="spacingAndGlyphs">MIC</text>
<text x="513.00" y="695.8" font-size="26.30" textLength="57.77" lengthAdjust="spacingAndGlyphs">Time</text>
<text x="936.00" y="665.2" font-size="22.30" textLength="44.83" lengthAdjust="spacingAndGlyphs">24-h</text>
<text x="313.30" y="779.6" font-size="21.80" textLength="39.63" lengthAdjust="spacingAndGlyphs">MIC</text>
<text x="357.88" y="779.6" font-size="21.80" textLength="12.63" lengthAdjust="spacingAndGlyphs">=</text>
<text x="377.70" y="779.6" font-size="21.80" textLength="100.49" lengthAdjust="spacingAndGlyphs">minimum</text>
<text x="487.70" y="779.6" font-size="21.80" textLength="95.64" lengthAdjust="spacingAndGlyphs">inhibitory</text>
<text x="593.30" y="779.6" font-size="21.80" textLength="141.78" lengthAdjust="spacingAndGlyphs">concentration</text>
<text x="744.30" y="779.6" font-size="21.80" textLength="147.32" lengthAdjust="spacingAndGlyphs">(concentration</text>
<text x="901.00" y="779.6" font-size="21.80" textLength="72.23" lengthAdjust="spacingAndGlyphs">needed</text>
<text x="983.30" y="779.6" font-size="21.80" textLength="18.49" lengthAdjust="spacingAndGlyphs">to</text>
<text x="1011.70" y="779.6" font-size="21.80" textLength="65.27" lengthAdjust="spacingAndGlyphs">inhibit</text>
<text x="312.30" y="810.1" font-size="21.80" textLength="73.66" lengthAdjust="spacingAndGlyphs">growth</text>
<text x="399.19" y="810.1" font-size="21.80" textLength="20.47" lengthAdjust="spacingAndGlyphs">of</text>
<text x="427.40" y="810.1" font-size="21.80" textLength="11.71" lengthAdjust="spacingAndGlyphs">a</text>
<text x="446.70" y="810.1" font-size="21.80" textLength="88.35" lengthAdjust="spacingAndGlyphs">particular</text>
<text x="544.30" y="810.1" font-size="21.80" textLength="90.76" lengthAdjust="spacingAndGlyphs">organism</text>
<text x="644.29" y="810.1" font-size="21.80" textLength="16.39" lengthAdjust="spacingAndGlyphs">in</text>
<text x="669.00" y="810.1" font-size="21.80" textLength="53.45" lengthAdjust="spacingAndGlyphs">vitro)</text>
<text x="313.30" y="887.1" font-size="21.80" textLength="43.57" lengthAdjust="spacingAndGlyphs">AUC</text>
<text x="364.30" y="887.1" font-size="21.80" textLength="12.49" lengthAdjust="spacingAndGlyphs">=</text>
<text x="383.30" y="887.1" font-size="21.80" textLength="42.22" lengthAdjust="spacingAndGlyphs">area</text>
<text x="434.30" y="887.1" font-size="21.80" textLength="61.34" lengthAdjust="spacingAndGlyphs">under</text>
<text x="501.70" y="887.1" font-size="21.80" textLength="31.00" lengthAdjust="spacingAndGlyphs">the</text>
<text x="541.70" y="887.1" font-size="21.80" textLength="53.19" lengthAdjust="spacingAndGlyphs">curve</text>
<text x="605.00" y="887.1" font-size="21.80" textLength="36.76" lengthAdjust="spacingAndGlyphs">(the</text>
<text x="650.00" y="887.1" font-size="21.80" textLength="76.59" lengthAdjust="spacingAndGlyphs">amount</text>
<text x="736.70" y="887.1" font-size="21.80" textLength="19.85" lengthAdjust="spacingAndGlyphs">of</text>
<text x="765.00" y="887.1" font-size="21.80" textLength="55.40" lengthAdjust="spacingAndGlyphs">drug)</text>
<text x="313.30" y="983.1" font-size="21.80" textLength="45.03" lengthAdjust="spacingAndGlyphs">24-h</text>
<text x="365.00" y="983.1" font-size="21.80" textLength="44.03" lengthAdjust="spacingAndGlyphs">AUC</text>
<text x="415.00" y="983.1" font-size="21.80" textLength="13.39" lengthAdjust="spacingAndGlyphs">=</text>
<text x="435.70" y="983.1" font-size="21.80" textLength="51.96" lengthAdjust="spacingAndGlyphs">body</text>
<text x="496.70" y="983.1" font-size="21.80" textLength="91.68" lengthAdjust="spacingAndGlyphs">exposure</text>
<text x="596.70" y="983.1" font-size="21.80" textLength="18.39" lengthAdjust="spacingAndGlyphs">to</text>
<text x="623.30" y="983.1" font-size="21.80" textLength="45.03" lengthAdjust="spacingAndGlyphs">drug</text>
<text x="677.70" y="983.1" font-size="21.80" textLength="45.49" lengthAdjust="spacingAndGlyphs">over</text>
<text x="731.00" y="983.1" font-size="21.80" textLength="50.68" lengthAdjust="spacingAndGlyphs">24-h,</text>
<text x="789.00" y="983.1" font-size="21.80" textLength="99.37" lengthAdjust="spacingAndGlyphs">expressed</text>
<text x="896.29" y="983.1" font-size="21.80" textLength="21.73" lengthAdjust="spacingAndGlyphs">as</text>
<text x="926.00" y="983.1" font-size="21.80" textLength="75.96" lengthAdjust="spacingAndGlyphs">mg*h/L</text>
</svg>
</body></html>
